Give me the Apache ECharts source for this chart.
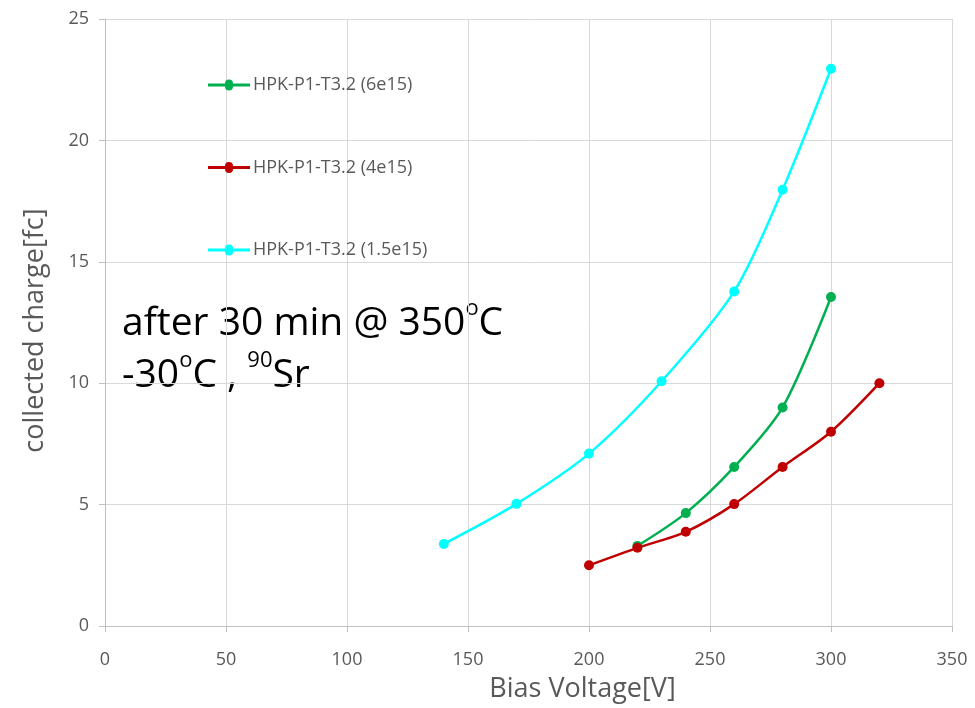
<!DOCTYPE html>
<html><head><meta charset="utf-8">
<script src="https://cdn.jsdelivr.net/npm/echarts@6/dist/echarts.min.js"></script>
<style>html,body{margin:0;padding:0;background:#fff}#c{width:975px;height:708px}</style>
</head><body><div id="c"></div>
<script>
const xTicks = [0, 50, 100, 150, 200, 250, 300, 350];
const yTicks = [0, 5, 10, 15, 20, 25];
const names = ['HPK-P1-T3.2 (6e15)', 'HPK-P1-T3.2 (4e15)', 'HPK-P1-T3.2 (1.5e15)'];
const green_x = [220, 240, 260, 280, 300];
const green_y = [3.3, 4.65, 6.55, 9.0, 13.55];
const red_x = [200, 220, 240, 260, 280, 300, 320];
const red_y = [2.5, 3.22, 3.88, 5.02, 6.55, 8.0, 10.0];
const cyan_x = [140, 170, 200, 230, 260, 280, 300];
const cyan_y = [3.38, 5.03, 7.1, 10.08, 13.78, 17.97, 22.95];
const colors = ['#00B050', '#C00000', '#00FFFF'];

const font = '"Open Sans", sans-serif';
function pairs(xs, ys){ return xs.map((x,i)=>[x, ys[i]]); }
const seriesData = [pairs(green_x, green_y), pairs(red_x, red_y), pairs(cyan_x, cyan_y)];
const legendIcon = 'path://M0,5.5 L17,5.5 A4,4 0 0 1 25,5.5 L42,5.5 L42,8.5 L25,8.5 A4,4 0 0 1 17,8.5 L0,8.5 Z';

const chart = echarts.init(document.getElementById('c'));
chart.setOption({
  animation: false,
  backgroundColor: '#fff',
  grid: {left: 105, right: 23, top: 19, bottom: 80},
  legend: {
    orient: 'vertical', left: 208, top: 76, padding: 0, itemGap: 64.5, itemWidth: 42, itemHeight: 14,
    data: names.map((n)=>({name:n, icon: legendIcon})),
    textStyle: {color: '#595959', fontSize: 18, fontFamily: font, padding: [0,0,0,-2]}
  },
  xAxis: {
    type: 'value', min: 0, max: 350, interval: 50,
    name: 'Bias Voltage[V]', nameLocation: 'middle', nameGap: 50,
    nameTextStyle: {color: '#595959', fontSize: 27, fontFamily: font, padding: [0,0,0,108]},
    axisLine: {show: true, lineStyle: {color: '#BFBFBF'}},
    axisTick: {show: true, length: 6, lineStyle: {color: '#BFBFBF'}},
    axisLabel: {color: '#595959', fontSize: 18, fontFamily: font, margin: 25},
    splitLine: {show: true, lineStyle: {color: '#D9D9D9', width: 1}}
  },
  yAxis: {
    type: 'value', min: 0, max: 25, interval: 5,
    name: 'collected charge[fc]', nameLocation: 'middle', nameGap: 56,
    nameTextStyle: {color: '#595959', fontSize: 27, fontFamily: font, padding: [0,16,0,0]},
    axisLine: {show: true, lineStyle: {color: '#BFBFBF'}},
    axisTick: {show: true, length: 6, lineStyle: {color: '#BFBFBF'}},
    axisLabel: {color: '#595959', fontSize: 18, fontFamily: font, margin: 16},
    splitLine: {show: true, lineStyle: {color: '#D9D9D9', width: 1}}
  },
  graphic: [
    {type: 'text', left: 122, top: 298, style: {
      text: 'after 30 min @ 350{s|o}C\n-30{s|o}C , {s|90}Sr',
      font: '39px ' + font, fill: '#000', lineHeight: 52,
      rich: {s: {fontSize: 22, verticalAlign: 'top', padding: [0,0,18,0], fontFamily: font, fill:'#000'}}
    }}
  ],
  series: names.map((n,i)=>({
    name: n, type: 'line', smooth: 0.3, data: seriesData[i],
    symbol: 'circle', symbolSize: 10,
    lineStyle: {color: colors[i], width: 2.5},
    itemStyle: {color: colors[i]}
  }))
});
</script>
</body></html>
